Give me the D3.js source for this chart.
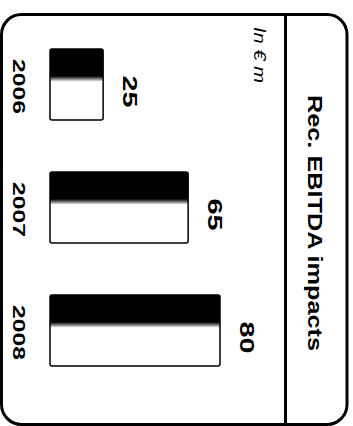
<!DOCTYPE html>
<html>
<head>
<meta charset="utf-8">
<script src="https://cdn.jsdelivr.net/npm/d3@7"></script>
<style>
  html, body { margin: 0; padding: 0; background: #fff; }
  svg { display: block; }
  text { font-family: "Liberation Sans", Arial, Helvetica, sans-serif; fill: #000; }
</style>
</head>
<body>
<svg id="chart" width="353" height="426"></svg>
<script>
// ---- data ----
const years = ["2006", "2007", "2008"];
const values = [25, 65, 80];
const valueLabels = ["25", "65", "80"];
const title = "Rec. EBITDA impacts";
const unitLabel = "In € m";

// ---- setup ----
const W = 353, H = 426;
const svg = d3.select("#chart");

const defs = svg.append("defs");
const grad = defs.append("linearGradient")
  .attr("id", "barFill").attr("x1", 0).attr("y1", 0).attr("x2", 0).attr("y2", 1);
grad.append("stop").attr("offset", 0).attr("stop-color", "#000");
grad.append("stop").attr("offset", 0.38).attr("stop-color", "#000");
grad.append("stop").attr("offset", 0.41).attr("stop-color", "#555");
grad.append("stop").attr("offset", 0.46).attr("stop-color", "#fff");
grad.append("stop").attr("offset", 1).attr("stop-color", "#fff");

// scales (chart is drawn rotated: bars grow to the right, categories run downward)
const x = d3.scaleLinear().domain([0, 80]).range([50, 220]);
const y = d3.scaleBand().domain(years).range([49, 366]).paddingInner(0.4228).paddingOuter(0);

// frame
svg.append("rect")
  .attr("x", 1.5).attr("y", 14.5).attr("width", 345.5).attr("height", 410)
  .attr("rx", 20).attr("ry", 20)
  .attr("fill", "none").attr("stroke", "#000").attr("stroke-width", 3);

// divider
svg.append("line")
  .attr("x1", 285.5).attr("x2", 285.5).attr("y1", 14).attr("y2", H)
  .attr("stroke", "#000").attr("stroke-width", 3);

const data = years.map((yr, i) => ({ year: yr, value: values[i], label: valueLabels[i] }));

// bars
svg.selectAll("rect.bar").data(data).join("rect")
  .attr("class", "bar")
  .attr("x", x(0))
  .attr("y", d => y(d.year))
  .attr("width", d => x(d.value) - x(0))
  .attr("height", y.bandwidth())
  .attr("rx", 2).attr("ry", 2)
  .attr("fill", "url(#barFill)")
  .attr("stroke", "#000").attr("stroke-width", 1.5);

// year labels
svg.selectAll("text.year").data(data).join("text")
  .attr("class", "year")
  .attr("transform", d => `translate(13,${y(d.year) + y.bandwidth() / 2 + 2}) rotate(90)`)
  .attr("text-anchor", "middle")
  .attr("font-size", 17).attr("font-weight", "bold")
  .attr("textLength", 55).attr("lengthAdjust", "spacingAndGlyphs")
  .text(d => d.year);

// value labels
svg.selectAll("text.val").data(data).join("text")
  .attr("class", "val")
  .attr("transform", d => `translate(${x(d.value) + 20},${y(d.year) + y.bandwidth() / 2 + 7}) rotate(90)`)
  .attr("text-anchor", "middle")
  .attr("font-size", 21).attr("font-weight", "bold")
  .attr("textLength", 32).attr("lengthAdjust", "spacingAndGlyphs")
  .text(d => d.label);

// unit label
svg.append("text")
  .attr("transform", "translate(254,27) rotate(90)")
  .attr("text-anchor", "start")
  .attr("font-size", 17).attr("font-style", "italic")
  .attr("textLength", 56).attr("lengthAdjust", "spacingAndGlyphs")
  .text(unitLabel);

// title
svg.append("text")
  .attr("transform", "translate(308,223) rotate(90)")
  .attr("text-anchor", "middle")
  .attr("font-size", 20).attr("font-weight", "bold")
  .attr("textLength", 256).attr("lengthAdjust", "spacingAndGlyphs")
  .text(title);
</script>
</body>
</html>
